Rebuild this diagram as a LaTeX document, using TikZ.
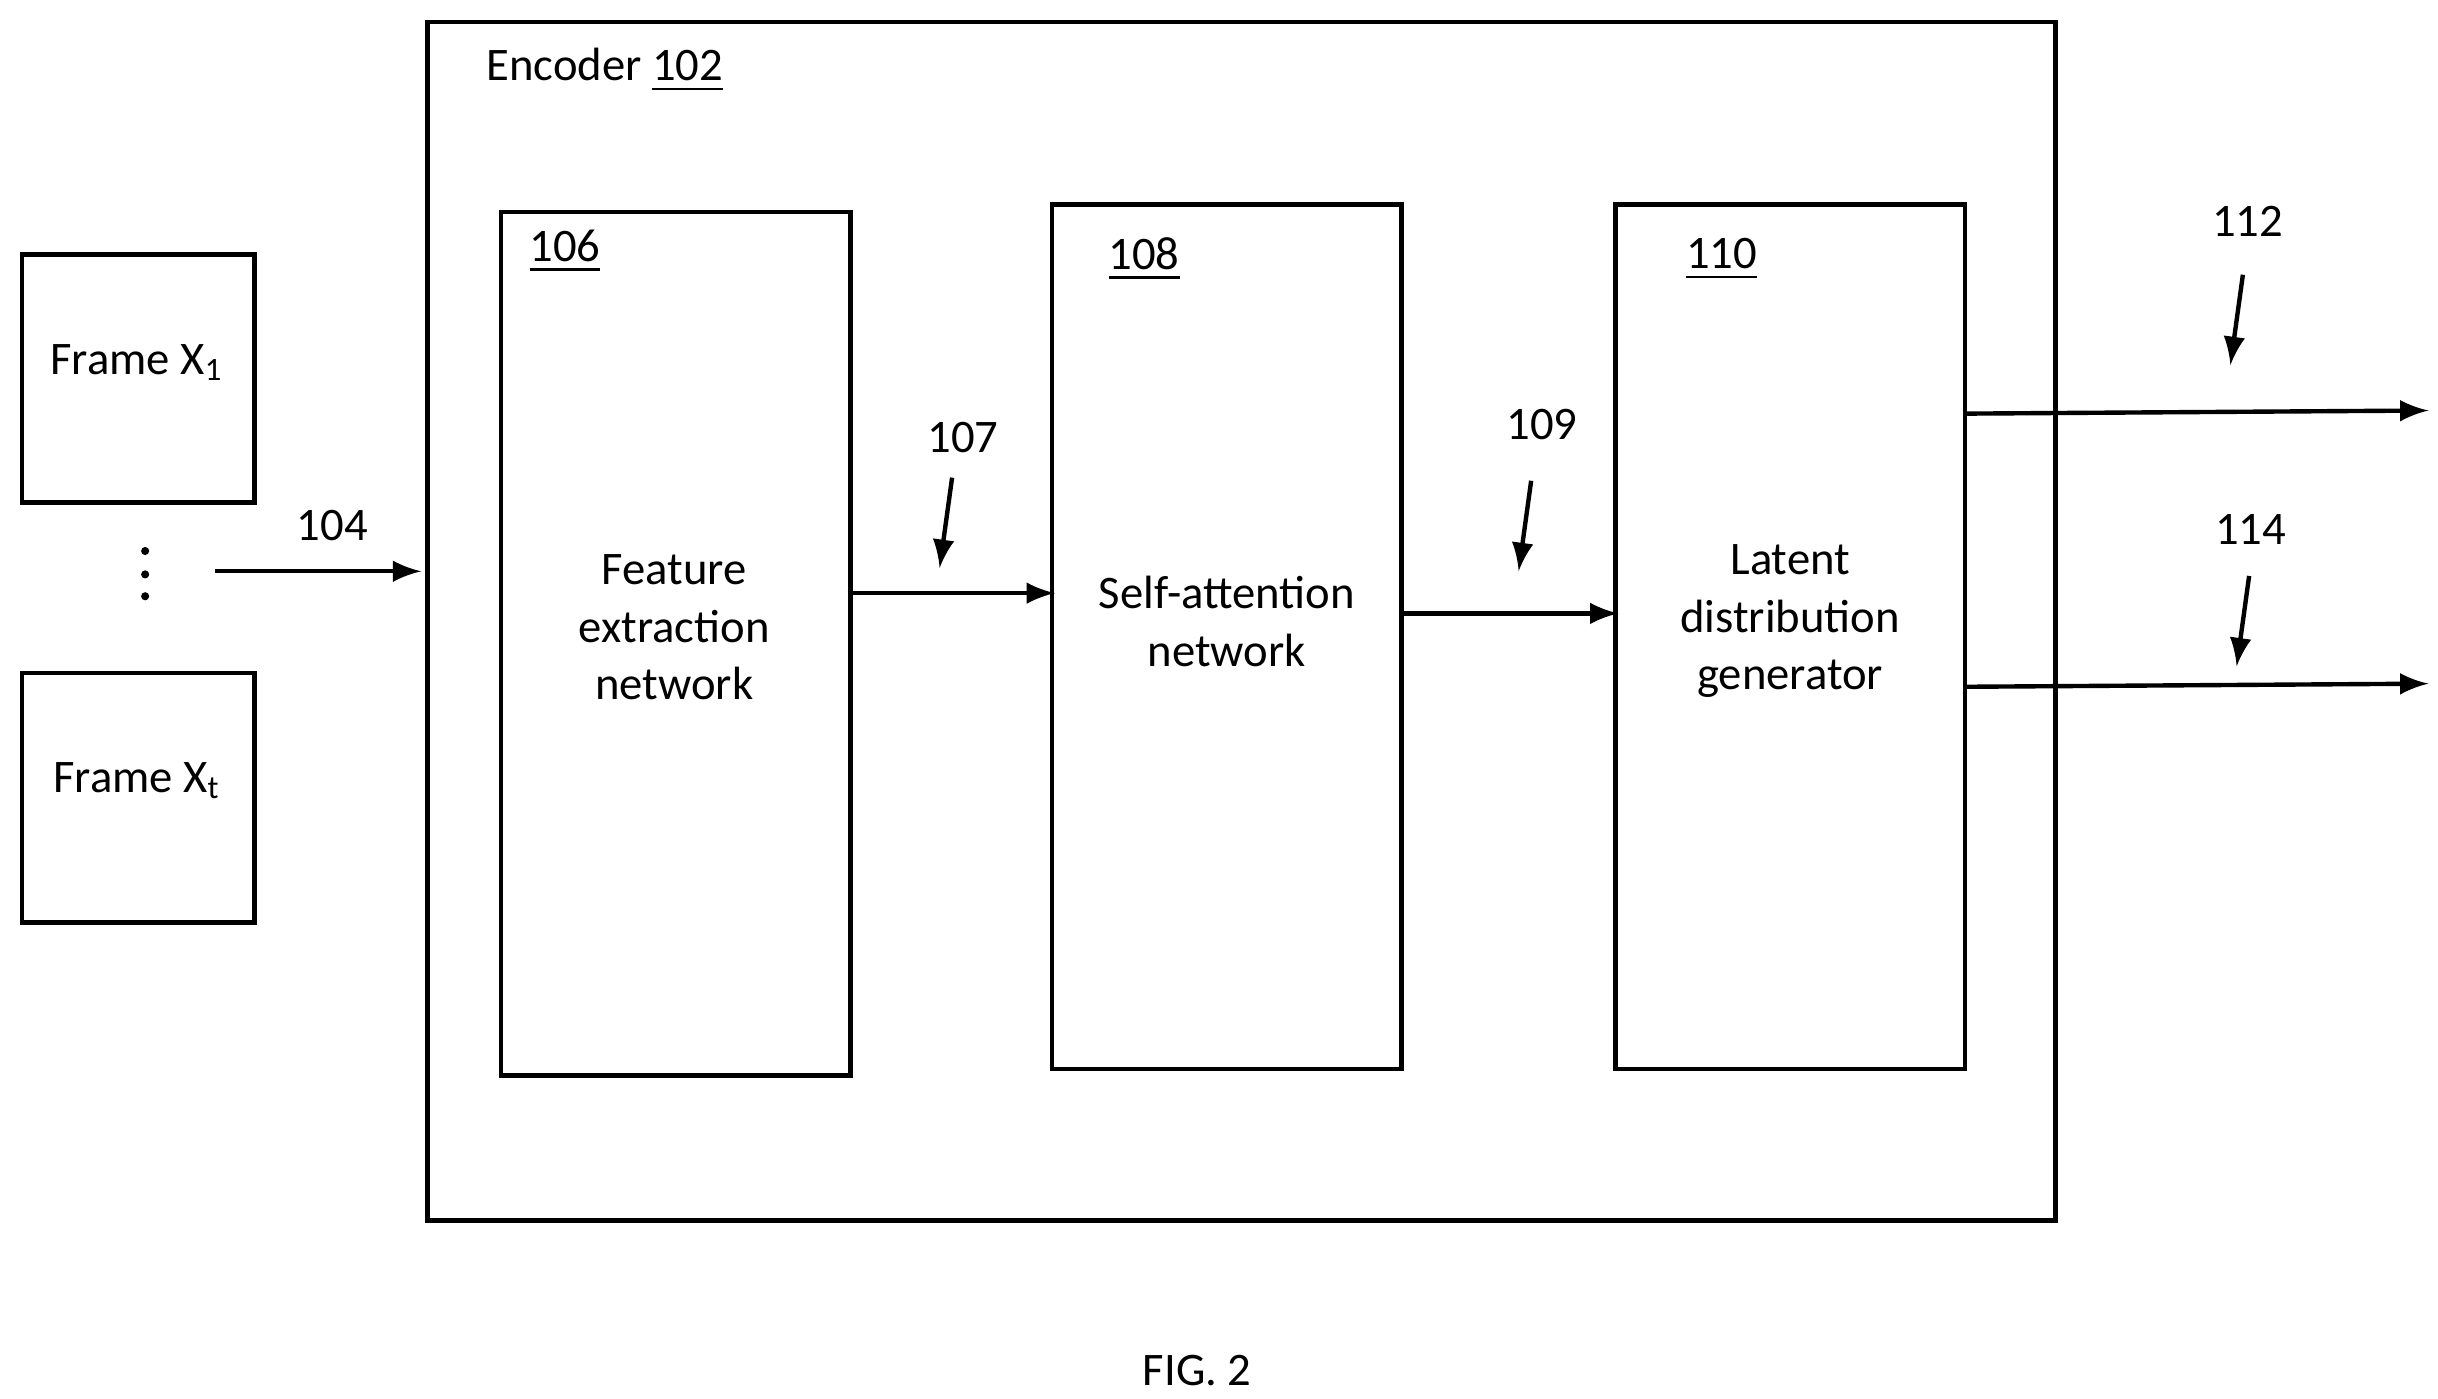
\documentclass[tikz,border=0pt]{standalone}
\usepackage{fontspec}
\setmainfont{Carlito}
\usetikzlibrary{arrows}
\tikzstyle{arrow} = [thick,->,>=latex]
\tikzstyle{block} = [draw, thick, inner sep=0pt]
\tikzstyle{lbl} = [font=\fontsize{8.5}{10.5}\selectfont, align=center]

\begin{document}
\begin{tikzpicture}[x=0.01cm,y=-0.01cm]
\useasboundingbox (0,0) rectangle (1562,896);
\fontsize{8.5}{10.5}\selectfont
% input frames
\draw[block] (14,163) rectangle (163,322);
\node[lbl] (frame1) at (88,232) {Frame X\textsubscript{1}};
\draw[block] (14,431) rectangle (163,591);
\node[lbl] (framet) at (88,500) {Frame X\textsubscript{t}};
\foreach \y in {353,368,382} \fill (93,\y) circle (2.6);

% encoder
\draw[block] (274,14) rectangle (1317,782);
\node[lbl, anchor=west] (encoder) at (301,45) {Encoder \underline{102}};
\coordinate (in) at (138,366);
\coordinate (encin) at (270,366);
\draw[arrow] (in) -- (encin);
\node[lbl] (l104) at (213,337) {104};

% blocks
\draw[block] (321,136) rectangle (545,689);
\node[lbl] (n106) at (362,161) {\underline{106}};
\node[lbl] (feature) at (432,402) {Feature\\extraction\\network};
\draw[block] (674,131) rectangle (898,685);
\node[lbl] (n108) at (733,166) {\underline{108}};
\node[lbl] (selfatt) at (786,398) {Self-attention\\network};
\draw[block] (1035,131) rectangle (1259,685);
\node[lbl] (n110) at (1103,166) {\underline{110}};
\node[lbl] (latent) at (1147,398) {Latent\\distribution\\generator};

% connections
\coordinate (o106) at (543,380); \coordinate (i108) at (676,380);
\coordinate (o108) at (898,393); \coordinate (i110) at (1037,393);
\coordinate (o112s) at (1259,265); \coordinate (o112) at (1556,263);
\coordinate (o114s) at (1259,440); \coordinate (o114) at (1556,438);
\draw[arrow] (o106) -- (i108);
\draw[arrow] (o108) -- (i110);
\draw[arrow] (o112s) -- (o112);
\draw[arrow] (o114s) -- (o114);

% reference numerals
\node[lbl] (l107) at (617,280) {107};
\node[lbl] (l109) at (988,272) {109};
\node[lbl] (l112) at (1440,142) {112};
\node[lbl] (l114) at (1442,339) {114};
\coordinate (p107) at (610,306); \coordinate (q107) at (602,364);
\coordinate (p109) at (981,308); \coordinate (q109) at (973,366);
\coordinate (p112) at (1437,176); \coordinate (q112) at (1429,234);
\coordinate (p114) at (1441,369); \coordinate (q114) at (1433,427);
\draw[arrow] (p107) -- (q107);
\draw[arrow] (p109) -- (q109);
\draw[arrow] (p112) -- (q112);
\draw[arrow] (p114) -- (q114);

\node[lbl] (fig) at (767,878) {FIG. 2};
\end{tikzpicture}
\end{document}
